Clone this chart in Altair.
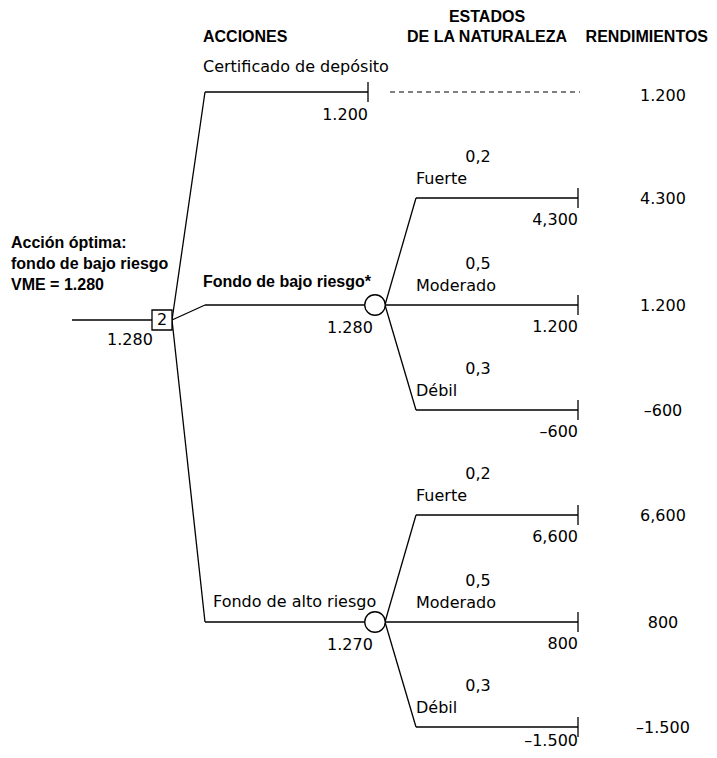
import altair as alt
import pandas as pd

# ---------------- values ----------------
acciones = ["Certificado de depósito", "Fondo de bajo riesgo*", "Fondo de alto riesgo"]
vme_acciones = ["1.200", "1.280", "1.270"]
estados = ["Fuerte", "Moderado", "Débil"]
probabilidades = ["0,2", "0,5", "0,3"]
rend_bajo_rama = ["4,300", "1.200", "–600"]
rend_bajo_col = ["4.300", "1.200", "–600"]
rend_alto_rama = ["6,600", "800", "–1.500"]
rend_alto_col = ["6,600", "800", "–1.500"]
rend_certificado = "1.200"
encabezados = ["ACCIONES", "ESTADOS", "DE LA NATURALEZA", "RENDIMIENTOS"]
conclusion = ["Acción óptima:", "fondo de bajo riesgo", "VME = 1.280"]
vme_optimo = "1.280"
nodo_decision = "2"

# ---------------- layout (pixel grid of the diagram) ----------------
X_START, X_BOX, X_BR, X_ACT = 72, 162, 172, 205
X_CERT_END, X_CHANCE, X_CR, X_ST, X_END, X_PAY = 368, 375, 385, 416, 578, 663
Y_DEC = 320
Y_ACT = [92, 305, 622]
STATE_OFF = [-107, 0, 105]

seg = []
dash = []
def add(x, y, x2, y2, lst=seg):
    lst.append({"x": x, "y": y, "x2": x2, "y2": y2})

add(X_START, Y_DEC, X_BOX - 10, Y_DEC)
for ya in Y_ACT:
    add(X_BR, Y_DEC, X_ACT, ya)
# certificado
add(X_ACT, Y_ACT[0], X_CERT_END, Y_ACT[0])
add(X_CERT_END, Y_ACT[0] - 10, X_CERT_END, Y_ACT[0] + 10)
add(390, Y_ACT[0], 580, Y_ACT[0], dash)
# funds
for ya in Y_ACT[1:]:
    add(X_ACT, ya, X_CHANCE, ya)
    for off in STATE_OFF:
        ys = ya + off
        if off == 0:
            add(X_CR, ya, X_END, ys)
        else:
            add(X_CR, ya, X_ST, ys)
            add(X_ST, ys, X_END, ys)
        add(X_END, ys - 10, X_END, ys + 10)

seg_df = pd.DataFrame(seg)
dash_df = pd.DataFrame(dash)

texts = []  # x, y, text, align, bold
def t(x, y, s, align="left", bold=False):
    texts.append({"x": x, "y": y, "text": s, "align": align, "bold": bold})

t(203, 37, encabezados[0], "left", True)
t(487, 17, encabezados[1], "center", True)
t(487, 37, encabezados[2], "center", True)
t(708, 37, encabezados[3], "right", True)
for i, s in enumerate(conclusion):
    t(11, 243 + i * 21, s, "left", True)
t(130, 340, vme_optimo, "center")
t(203, 67, acciones[0], "left")
t(X_CERT_END, 115, vme_acciones[0], "right")
t(X_PAY, 96, rend_certificado, "center")
t(203, 282, acciones[1], "left", True)
t(350, 328, vme_acciones[1], "center")
t(213, 602, acciones[2], "left")
t(350, 645, vme_acciones[2], "center")
for ya, rama, col in [(Y_ACT[1], rend_bajo_rama, rend_bajo_col), (Y_ACT[2], rend_alto_rama, rend_alto_col)]:
    for k, off in enumerate(STATE_OFF):
        ys = ya + off
        t(478, ys - 41, probabilidades[k], "center")
        t(X_ST, ys - 19, estados[k], "left")
        t(X_END, min(ys + 22, 741), rama[k], "right")
        t(X_PAY, ys + 1, col[k], "center")

txt_df = pd.DataFrame(texts)

nodes_sq = pd.DataFrame([{"x": X_BOX, "y": Y_DEC, "text": nodo_decision}])
nodes_ci = pd.DataFrame([{"x": X_CHANCE, "y": Y_ACT[1]}, {"x": X_CHANCE, "y": Y_ACT[2]}])

W, H = 701, 742
xs = alt.Scale(domain=[8, 8 + W])
ys_ = alt.Scale(domain=[8 + H, 8])
X = alt.X("x:Q", scale=xs, axis=None)
Y = alt.Y("y:Q", scale=ys_, axis=None)

lines = alt.Chart(seg_df).mark_rule(color="black", strokeWidth=1.3).encode(
    x=X, y=Y, x2="x2:Q", y2="y2:Q")
dashed = alt.Chart(dash_df).mark_rule(color="black", strokeWidth=1.2, strokeDash=[5, 4]).encode(
    x=X, y=Y, x2="x2:Q", y2="y2:Q")
square = alt.Chart(nodes_sq).mark_point(shape="square", size=400, filled=True, fill="white",
                                        stroke="black", strokeWidth=1.3, opacity=1).encode(x=X, y=Y)
sqtext = alt.Chart(nodes_sq).mark_text(font="DejaVu Sans", fontSize=16, color="black",
                                       baseline="middle").encode(x=X, y=Y, text="text:N")
circles = alt.Chart(nodes_ci).mark_point(shape="circle", size=420, filled=True, fill="white",
                                         stroke="black", strokeWidth=1.3, opacity=1).encode(x=X, y=Y)

layers = [lines, dashed, square, sqtext, circles]
for align in ["left", "center", "right"]:
    for bold in [False, True]:
        sub = txt_df[(txt_df["align"] == align) & (txt_df["bold"] == bold)]
        if len(sub) == 0:
            continue
        layers.append(alt.Chart(sub).mark_text(
            font="Liberation Sans" if bold else "DejaVu Sans", fontSize=16, color="black",
            align=align, baseline="middle",
            fontWeight="bold" if bold else "normal").encode(
            x=X, y=Y, text="text:N"))

chart = alt.layer(*layers).properties(width=W, height=H, padding=0, autosize="none").configure_view(stroke=None)
chart.save("out.html", embed_options={"renderer": "svg", "actions": False})
